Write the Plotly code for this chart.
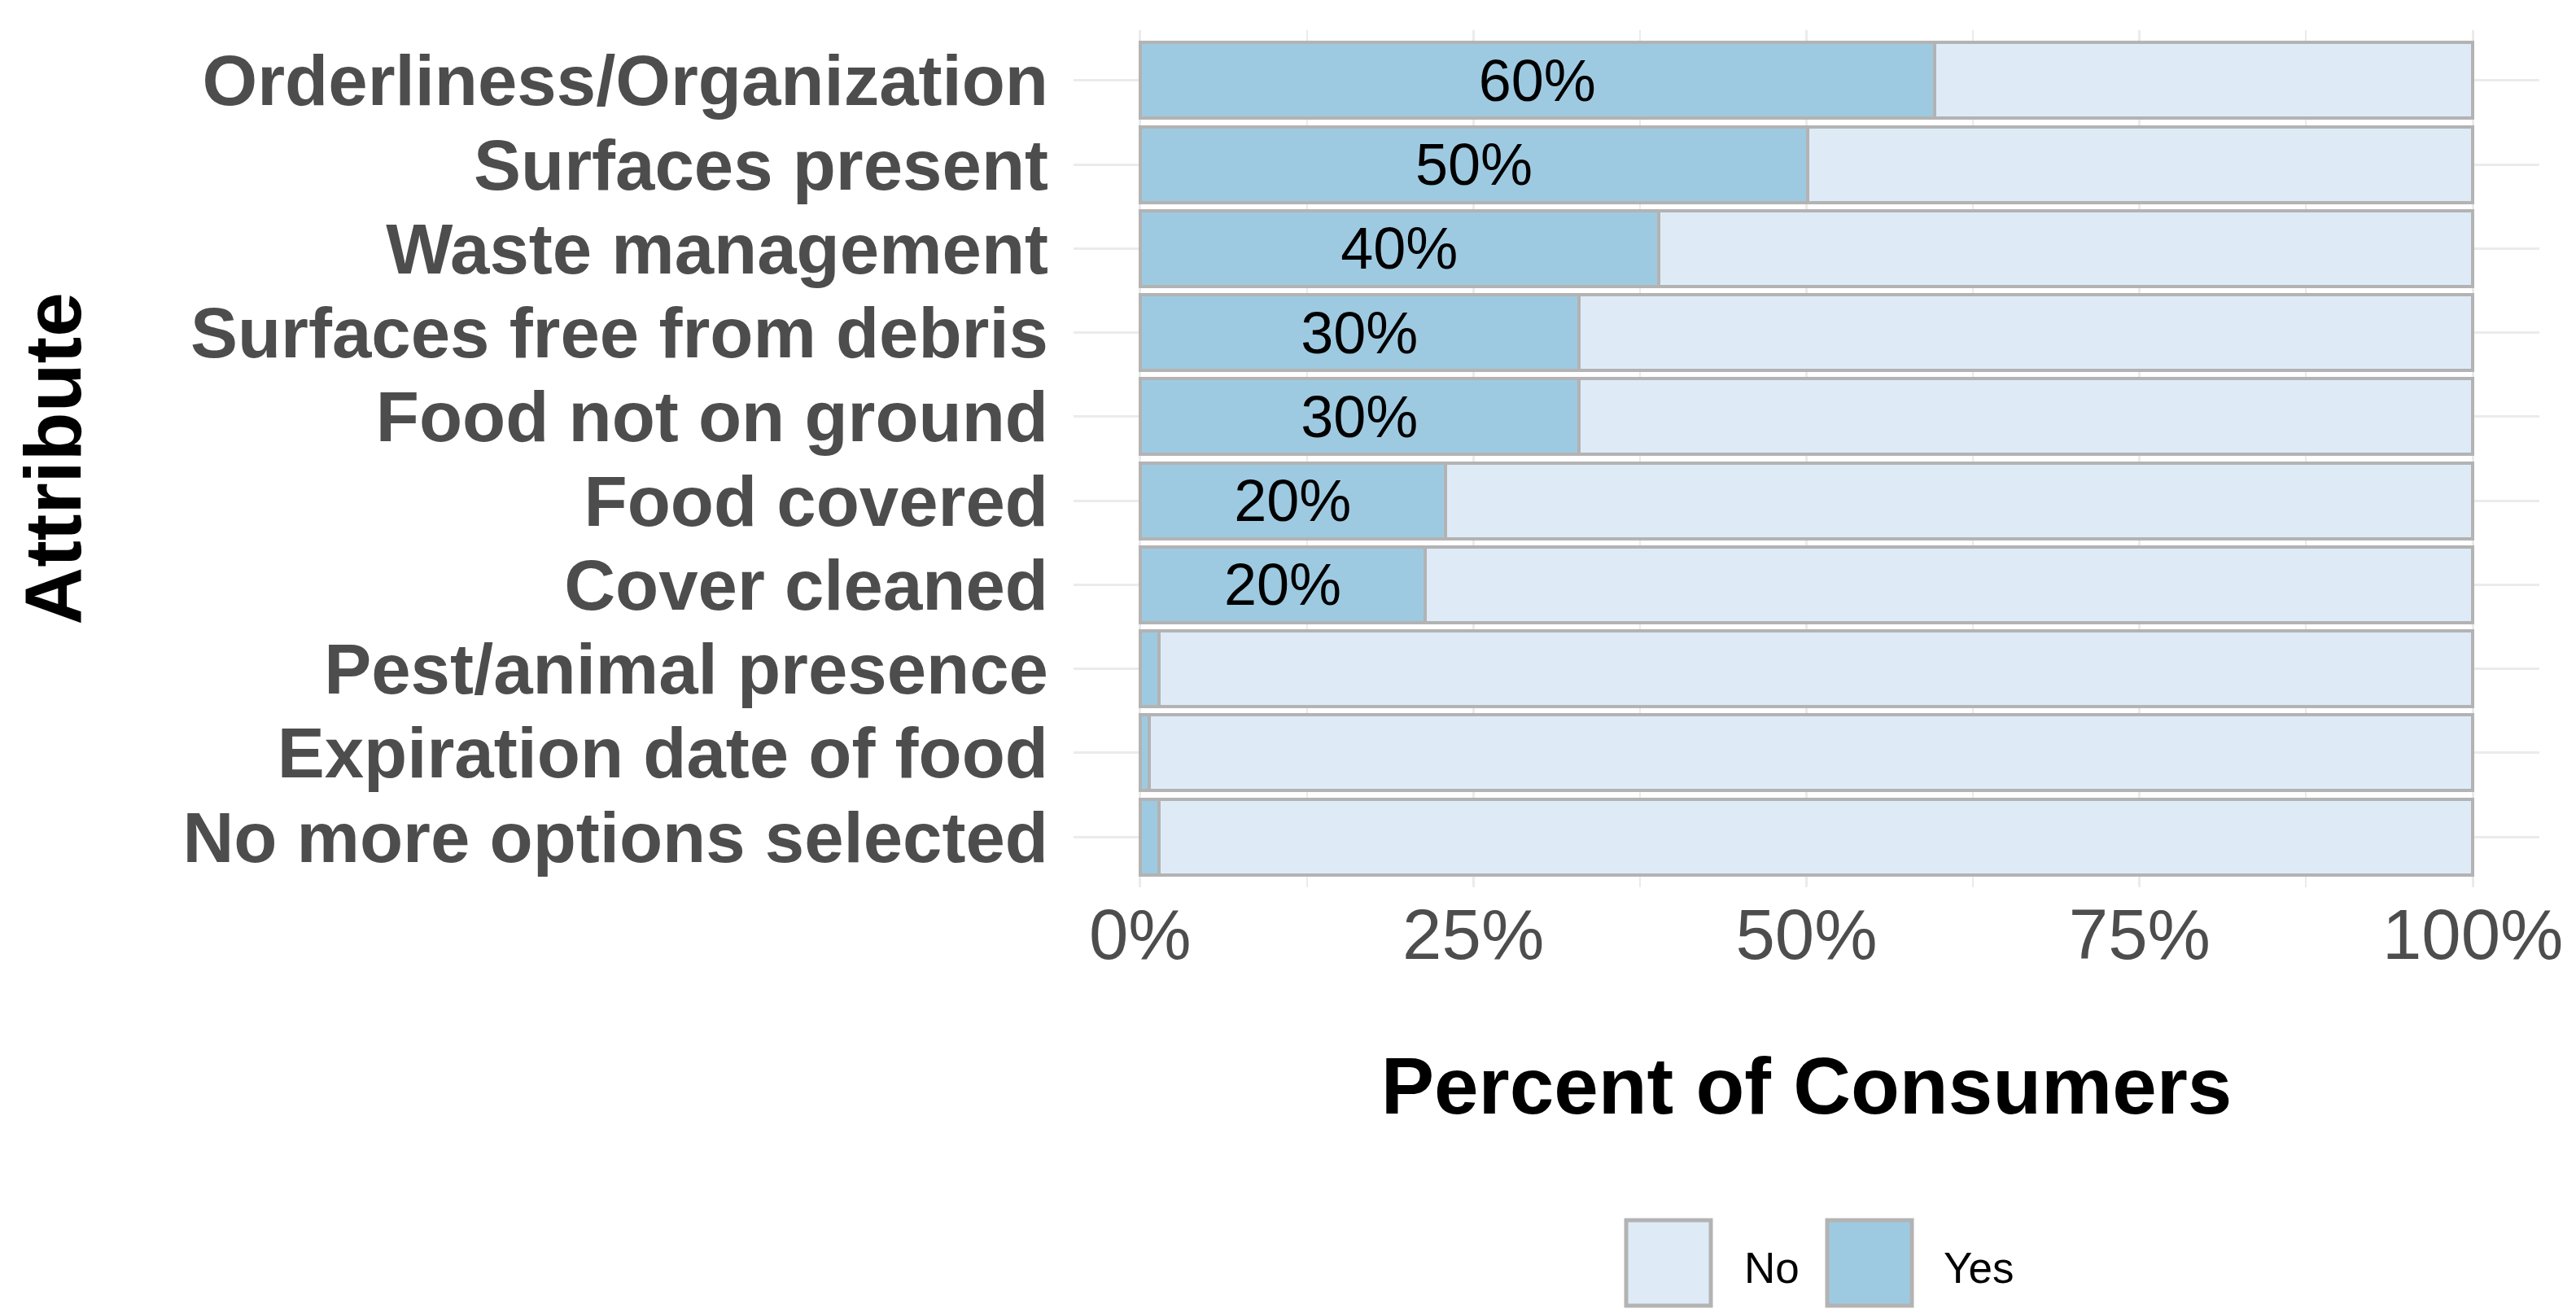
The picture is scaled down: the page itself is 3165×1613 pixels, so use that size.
import plotly.graph_objects as go

# ---- data ----
attributes = [
    "Orderliness/Organization",
    "Surfaces present",
    "Waste management",
    "Surfaces free from debris",
    "Food not on ground",
    "Food covered",
    "Cover cleaned",
    "Pest/animal presence",
    "Expiration date of food",
    "No more options selected",
]
yes_pct = [59.6, 50.1, 38.9, 32.9, 32.9, 22.9, 21.4, 1.4, 0.7, 1.4]
no_pct = [round(100 - v, 1) for v in yes_pct]
yes_labels = ["60%", "50%", "40%", "30%", "30%", "20%", "20%", "", "", ""]
x_ticks = [0, 25, 50, 75, 100]
x_tick_text = ["0%", "25%", "50%", "75%", "100%"]
x_minor = [12.5, 37.5, 62.5, 87.5]
legend_names = ["No", "Yes"]

# ---- style ----
W, H = 3165, 1613
ML, MR, MT, MB = 1311, 53, 29, 531
FONT = "Liberation Sans, Arial, sans-serif"
YES_COLOR = "#9ECAE1"
NO_COLOR = "#DEEBF7"
OUTLINE = "#B3B3B3"
GRID = "#EBEBEB"
AXIS_TEXT = "#4D4D4D"

fig = go.Figure()
fig.add_trace(go.Bar(
    y=attributes, x=yes_pct, orientation="h", name="Yes",
    marker=dict(color=YES_COLOR, line=dict(color=OUTLINE, width=4)),
    text=yes_labels, textposition="inside", insidetextanchor="middle",
    textfont=dict(family=FONT, size=72, color="black"),
    showlegend=False,
))
fig.add_trace(go.Bar(
    y=attributes, x=no_pct, orientation="h", name="No",
    marker=dict(color=NO_COLOR, line=dict(color=OUTLINE, width=4)),
    showlegend=False,
))

fig.update_layout(
    width=W, height=H,
    margin=dict(l=ML, r=MR, t=MT, b=MB, autoexpand=False),
    barmode="stack", bargap=0.1,
    plot_bgcolor="white", paper_bgcolor="white",
    font=dict(family=FONT),
    uniformtext=dict(minsize=72, mode="show"),
    showlegend=False,
)
fig.update_xaxes(
    range=[-5, 105], tickmode="array", tickvals=x_ticks, ticktext=x_tick_text,
    showgrid=True, gridcolor=GRID, gridwidth=3, zeroline=False,
    showline=False, ticks="", ticklabelstandoff=0,
    tickfont=dict(family=FONT, size=87, color=AXIS_TEXT),
    minor=dict(tickvals=x_minor, showgrid=True, gridcolor=GRID, gridwidth=2),
    title=dict(text="Percent of Consumers", standoff=104,
               font=dict(family=FONT, size=98, color="black", weight="bold")),
)
fig.update_yaxes(
    categoryorder="array", categoryarray=list(reversed(attributes)),
    tickmode="array", tickvals=attributes, ticktext=attributes,
    range=[-0.6, len(attributes) - 0.4],
    showgrid=True, gridcolor=GRID, gridwidth=3, zeroline=False,
    showline=False, ticks="", ticklabelstandoff=30,
    tickfont=dict(family=FONT, size=87, color=AXIS_TEXT, weight="bold"),
    title=dict(text="Attribute", standoff=92,
               font=dict(family=FONT, size=98, color="black", weight="bold")),
)

# ---- legend drawn as large keys (paper coordinates from pixel layout) ----
pw, ph = W - ML - MR, H - MT - MB
def px_x(p):
    return (p - ML) / pw
def px_y(p):
    return (H - MB - p) / ph

key_boxes = [(1990, 2094), (2237, 2341)]
key_text_x = [2133, 2378]
key_colors = [NO_COLOR, YES_COLOR]
for (x0, x1), tx, col, name in zip(key_boxes, key_text_x, key_colors, legend_names):
    fig.add_shape(type="rect", xref="paper", yref="paper",
                  x0=px_x(x0), x1=px_x(x1), y0=px_y(1596), y1=px_y(1491),
                  fillcolor=col, line=dict(color=OUTLINE, width=5))
    fig.add_annotation(xref="paper", yref="paper", x=px_x(tx), y=px_y(1549),
                       xanchor="left", yanchor="middle", showarrow=False,
                       text=name, font=dict(family=FONT, size=53, color="black"))

fig.write_html("out.html")
